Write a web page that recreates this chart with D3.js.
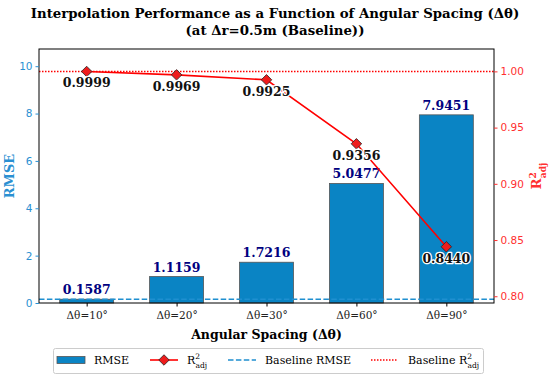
<!DOCTYPE html>
<html>
<head>
<meta charset="utf-8">
<script src="https://cdn.jsdelivr.net/npm/d3@7"></script>
<style>
body { margin: 0; background: #fff; }
svg { font-family: "DejaVu Serif", serif; }
</style>
</head>
<body>
<script>
const categories = ["Δθ=10°", "Δθ=20°", "Δθ=30°", "Δθ=60°", "Δθ=90°"];
const rmse = [0.1587, 1.1159, 1.7216, 5.0477, 7.9451];
const r2adj = [0.9999, 0.9969, 0.9925, 0.9356, 0.8440];
const baselineRmse = 0.1587;
const baselineR2 = 0.9999;
const rmseTicks = [0, 2, 4, 6, 8, 10];
const r2Ticks = [0.80, 0.85, 0.90, 0.95, 1.00];

const width = 550, height = 378;
const plotL = 39, plotR = 494, plotT = 49, plotB = 303;
const blue = "#0a84c4", tickBlue = "#2a90d2", red = "#ff0000", redText = "#ff3030", navy = "#000080";

const svg = d3.select("body").append("svg")
    .attr("width", width)
    .attr("height", height);

const x = d3.scaleLinear().domain([-0.53, categories.length - 1 + 0.53]).range([plotL, plotR]);
const y = d3.scaleLinear().domain([0, d3.max(rmse) * 1.35]).range([plotB, plotT]);
const y2 = d3.scaleLinear().domain([d3.min(r2adj) - 0.05, d3.max(r2adj) + 0.02]).range([plotB, plotT]);
const barW = 0.6 * (x(1) - x(0));

// title
svg.append("text").attr("x", 275).attr("y", 18).attr("text-anchor", "middle")
    .attr("font-size", 13.3).attr("font-weight", "bold")
    .text("Interpolation Performance as a Function of Angular Spacing (Δθ)");
svg.append("text").attr("x", 275).attr("y", 35).attr("text-anchor", "middle")
    .attr("font-size", 13.3).attr("font-weight", "bold")
    .text("(at Δr=0.5m (Baseline))");

// bars
svg.append("g").selectAll("rect")
    .data(rmse)
    .enter()
    .append("rect")
    .attr("x", (d, i) => x(i) - barW / 2)
    .attr("y", d => y(d))
    .attr("width", barW)
    .attr("height", d => y(0) - y(d))
    .attr("fill", blue)
    .attr("stroke", "#555")
    .attr("stroke-width", 0.8);

// baseline lines
svg.append("line")
    .attr("x1", plotL).attr("x2", plotR)
    .attr("y1", y(baselineRmse)).attr("y2", y(baselineRmse))
    .attr("stroke", "#1f8fd0").attr("stroke-width", 1.5)
    .attr("stroke-dasharray", "5.5,2.4");
svg.append("line")
    .attr("x1", plotL).attr("x2", plotR)
    .attr("y1", y2(baselineR2)).attr("y2", y2(baselineR2))
    .attr("stroke", red).attr("stroke-width", 1.5)
    .attr("stroke-dasharray", "1.5,1.5");

// bar labels
svg.append("g").selectAll("text")
    .data(rmse)
    .enter()
    .append("text")
    .attr("x", (d, i) => x(i))
    .attr("y", d => y(d) - 5)
    .attr("text-anchor", "middle")
    .attr("font-size", 12.5)
    .attr("font-weight", "bold")
    .attr("fill", navy)
    .text(d => d.toFixed(4));

// R2 line
const line = d3.line().x((d, i) => x(i)).y(d => y2(d));
svg.append("path")
    .attr("d", line(r2adj))
    .attr("fill", "none")
    .attr("stroke", red)
    .attr("stroke-width", 1.6);

const diamond = d3.symbol().type(d3.symbolDiamond2).size(70);
svg.append("g").selectAll("path")
    .data(r2adj)
    .enter()
    .append("path")
    .attr("d", diamond)
    .attr("transform", (d, i) => `translate(${x(i)},${y2(d)})`)
    .attr("fill", "#ee1c1c")
    .attr("stroke", "#222")
    .attr("stroke-width", 0.8);

svg.append("g").selectAll("text")
    .data(r2adj)
    .enter()
    .append("text")
    .attr("x", (d, i) => x(i))
    .attr("y", d => y2(d) + 16)
    .attr("text-anchor", "middle")
    .attr("font-size", 12.5)
    .attr("font-weight", "bold")
    .attr("fill", "#111")
    .attr("stroke", "#fff")
    .attr("stroke-width", 2.5)
    .attr("paint-order", "stroke")
    .attr("stroke-linejoin", "round")
    .text(d => d.toFixed(4));

// frame
svg.append("rect")
    .attr("x", plotL).attr("y", plotT)
    .attr("width", plotR - plotL).attr("height", plotB - plotT)
    .attr("fill", "none").attr("stroke", "#000").attr("stroke-width", 1);

// axes
const xAxis = svg.append("g")
    .attr("transform", `translate(0,${plotB})`)
    .call(d3.axisBottom(x).tickValues(d3.range(categories.length)).tickFormat(i => categories[i]).tickSize(3.5).tickSizeOuter(0));
xAxis.select(".domain").remove();
xAxis.selectAll("text").attr("font-family", "DejaVu Serif").attr("font-size", 10.5).attr("fill", "#222").attr("dy", "0.9em");

const yAxis = svg.append("g")
    .attr("transform", `translate(${plotL},0)`)
    .call(d3.axisLeft(y).tickValues(rmseTicks).tickSize(3.5).tickSizeOuter(0));
yAxis.select(".domain").remove();
yAxis.selectAll("line").attr("stroke", tickBlue);
yAxis.selectAll("text").attr("font-family", "DejaVu Sans").attr("font-size", 10.5).attr("fill", tickBlue);

const y2Axis = svg.append("g")
    .attr("transform", `translate(${plotR},0)`)
    .call(d3.axisRight(y2).tickValues(r2Ticks).tickFormat(d3.format(".2f")).tickSize(3.5).tickSizeOuter(0));
y2Axis.select(".domain").remove();
y2Axis.selectAll("line").attr("stroke", redText);
y2Axis.selectAll("text").attr("font-family", "DejaVu Sans").attr("font-size", 10.5).attr("fill", redText);

// axis labels
svg.append("text")
    .attr("transform", `translate(14,${(plotT + plotB) / 2}) rotate(-90)`)
    .attr("text-anchor", "middle")
    .attr("font-size", 13).attr("font-weight", "bold").attr("fill", tickBlue)
    .text("RMSE");

const r2lab = svg.append("text")
    .attr("transform", `translate(541,${(plotT + plotB) / 2}) rotate(-90)`)
    .attr("text-anchor", "middle")
    .attr("font-size", 13).attr("font-weight", "bold").attr("fill", redText);
r2lab.append("tspan").text("R");
r2lab.append("tspan").attr("font-size", 9).attr("dy", -5).text("2");
r2lab.append("tspan").attr("font-size", 9).attr("dy", 10).attr("dx", -6).text("adj");

svg.append("text")
    .attr("x", (plotL + plotR) / 2).attr("y", 339)
    .attr("text-anchor", "middle")
    .attr("font-size", 12.5).attr("font-weight", "bold")
    .text("Angular Spacing (Δθ)");

// legend
const lg = svg.append("g");
lg.append("rect").attr("x", 53.5).attr("y", 348.5).attr("width", 430).attr("height", 25)
    .attr("rx", 2).attr("fill", "#fff").attr("stroke", "#ccc");
const ly = 360;
const fs = 11;
lg.append("rect").attr("x", 57).attr("y", ly - 3.5).attr("width", 28).attr("height", 7)
    .attr("fill", blue).attr("stroke", "#555").attr("stroke-width", 0.8);
lg.append("text").attr("x", 94).attr("y", ly + 4).attr("font-size", fs).text("RMSE");

lg.append("line").attr("x1", 150).attr("x2", 178).attr("y1", ly).attr("y2", ly)
    .attr("stroke", red).attr("stroke-width", 1.6);
lg.append("path").attr("d", diamond).attr("transform", `translate(164,${ly})`)
    .attr("fill", "#ee1c1c").attr("stroke", "#222").attr("stroke-width", 0.8);
const t2 = lg.append("text").attr("x", 187).attr("y", ly + 4).attr("font-size", fs);
t2.append("tspan").text("R");
t2.append("tspan").attr("font-size", 7.5).attr("dy", -5).text("2");
t2.append("tspan").attr("font-size", 7.5).attr("dy", 8.5).attr("dx", -4.5).text("adj");

lg.append("line").attr("x1", 228).attr("x2", 256).attr("y1", ly).attr("y2", ly)
    .attr("stroke", "#1f8fd0").attr("stroke-width", 1.5).attr("stroke-dasharray", "5.5,2.4");
lg.append("text").attr("x", 265).attr("y", ly + 4).attr("font-size", fs).text("Baseline RMSE");

lg.append("line").attr("x1", 371).attr("x2", 398).attr("y1", ly).attr("y2", ly)
    .attr("stroke", red).attr("stroke-width", 1.5).attr("stroke-dasharray", "1.5,1.5");
const t4 = lg.append("text").attr("x", 408).attr("y", ly + 4).attr("font-size", fs);
t4.append("tspan").text("Baseline R");
t4.append("tspan").attr("font-size", 7.5).attr("dy", -5).text("2");
t4.append("tspan").attr("font-size", 7.5).attr("dy", 8.5).attr("dx", -4.5).text("adj");
</script>
</body>
</html>
